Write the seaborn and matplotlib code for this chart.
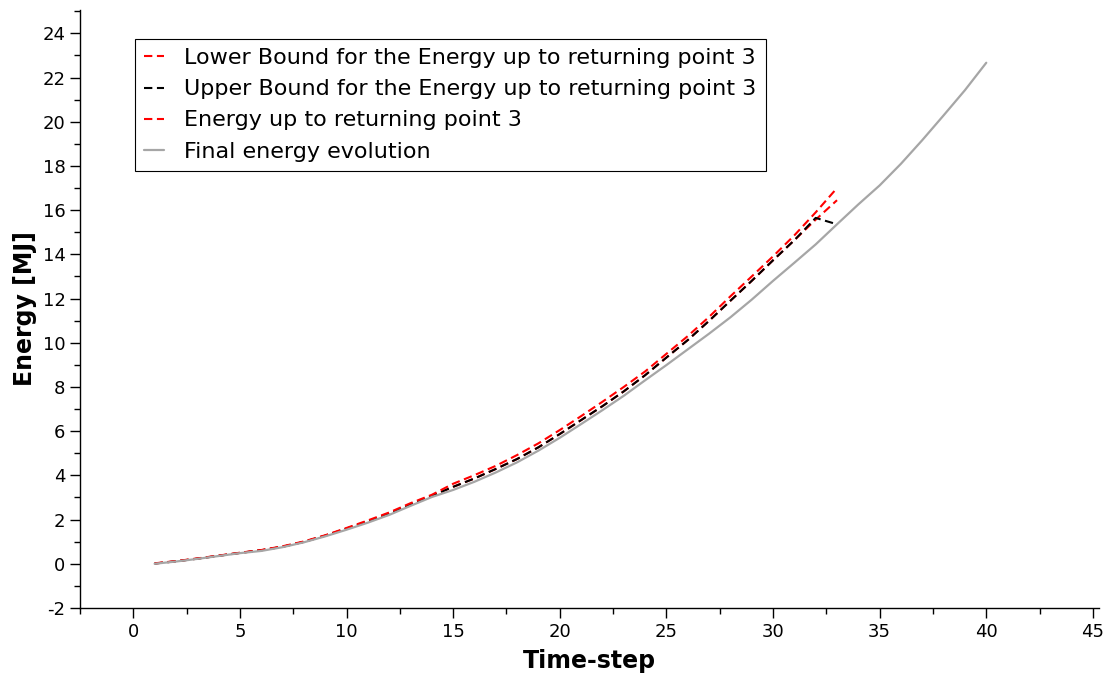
import numpy as np
import pandas as pd
import matplotlib
matplotlib.use("Agg")
import matplotlib.pyplot as plt
from matplotlib.ticker import MultipleLocator
import seaborn as sns

# ---- data ----
steps_rp3 = list(range(1, 34))
energy_rp3 = [0.02, 0.12, 0.24, 0.37, 0.50, 0.62, 0.79, 1.01, 1.29, 1.62,
              1.96, 2.32, 2.74, 3.12, 3.62, 4.01, 4.43, 4.92, 5.45, 6.05,
              6.68, 7.33, 8.00, 8.70, 9.50, 10.30, 11.17, 12.10, 13.00, 13.91,
              14.86, 15.90, 17.00]
upper_rp3 = [0.01, 0.11, 0.23, 0.36, 0.49, 0.61, 0.77, 0.99, 1.27, 1.59,
             1.92, 2.27, 2.68, 3.07, 3.48, 3.86, 4.29, 4.74, 5.27, 5.87,
             6.50, 7.13, 7.80, 8.53, 9.33, 10.12, 10.99, 11.90, 12.80, 13.73,
             14.64, 15.65, 15.36]
lower_rp3 = [0.01, 0.11, 0.23, 0.36, 0.49, 0.61, 0.77, 0.99, 1.27, 1.59,
             1.92, 2.27, 2.68, 3.07, 3.48, 3.86, 4.29, 4.74, 5.27, 5.87,
             6.50, 7.13, 7.80, 8.53, 9.33, 10.12, 10.99, 11.90, 12.80, 13.73,
             14.64, 15.57, 16.45]
steps_final = list(range(1, 41))
energy_final = [0.00, 0.10, 0.22, 0.35, 0.48, 0.58, 0.75, 0.97, 1.24, 1.54,
                1.86, 2.21, 2.62, 3.02, 3.34, 3.71, 4.13, 4.59, 5.12, 5.70,
                6.32, 6.95, 7.60, 8.30, 8.99, 9.70, 10.41, 11.15, 11.95, 12.80,
                13.62, 14.45, 15.36, 16.26, 17.12, 18.10, 19.17, 20.29, 21.43, 22.67]

labels = ["Lower Bound for the Energy up to returning point 3",
          "Upper Bound for the Energy up to returning point 3",
          "Energy up to returning point 3",
          "Final energy evolution"]

x_ticks = [0, 5, 10, 15, 20, 25, 30, 35, 40, 45]
y_ticks = [-2, 0, 2, 4, 6, 8, 10, 12, 14, 16, 18, 20, 22, 24]

# ---- style ----
sns.set_style("ticks")
plt.rcParams['font.family'] = ['DejaVu Sans']
plt.rcParams['axes.unicode_minus'] = False
plt.rcParams['text.color'] = 'black'
plt.rcParams['axes.labelcolor'] = 'black'

fig = plt.figure(figsize=(11.14, 6.77), dpi=100)
ax = fig.add_axes([0.0718, 0.102, 0.915, 0.883])

lw = 1.5
dash = (0, (4, 2.2))
sns.lineplot(x=steps_rp3, y=lower_rp3, ax=ax, color="#ff0000", lw=lw,
             linestyle=dash, label=labels[0])
sns.lineplot(x=steps_rp3, y=upper_rp3, ax=ax, color="#000000", lw=lw,
             linestyle=dash, label=labels[1])
sns.lineplot(x=steps_rp3, y=energy_rp3, ax=ax, color="#ff0000", lw=lw,
             linestyle=dash, label=labels[2])
sns.lineplot(x=steps_final, y=energy_final, ax=ax, color="#a6a6a6", lw=1.6,
             label=labels[3])

ax.set_xlim(-2.5, 45.3)
ax.set_ylim(-2, 25.05)
ax.set_xticks(x_ticks)
ax.set_yticks(y_ticks)
ax.xaxis.set_minor_locator(MultipleLocator(2.5))
ax.yaxis.set_minor_locator(MultipleLocator(1))
ax.tick_params(axis='both', which='major', length=7, width=1, direction='out',
               labelsize=13, color='black', labelcolor='black')
ax.tick_params(axis='both', which='minor', length=4, width=1, direction='out',
               color='black')
for s in ["top", "right"]:
    ax.spines[s].set_visible(False)
for s in ["left", "bottom"]:
    ax.spines[s].set_color("black")
    ax.spines[s].set_linewidth(1)

ax.set_xlabel("Time-step", fontsize=17, fontweight="bold", labelpad=6)
ax.set_ylabel("Energy [MJ]", fontsize=17, fontweight="bold", labelpad=4)

leg = ax.legend(loc="upper left", bbox_to_anchor=(0.054, 0.952), fontsize=16,
                frameon=True, fancybox=False, shadow=False, handlelength=0.9,
                handletextpad=0.9, borderpad=0.42, labelspacing=0.5,
                borderaxespad=0)
leg.get_frame().set_edgecolor("black")
leg.get_frame().set_linewidth(0.8)
leg.get_frame().set_alpha(1)
for t in leg.get_texts():
    t.set_color("black")

fig.savefig("out.png", dpi=100)
